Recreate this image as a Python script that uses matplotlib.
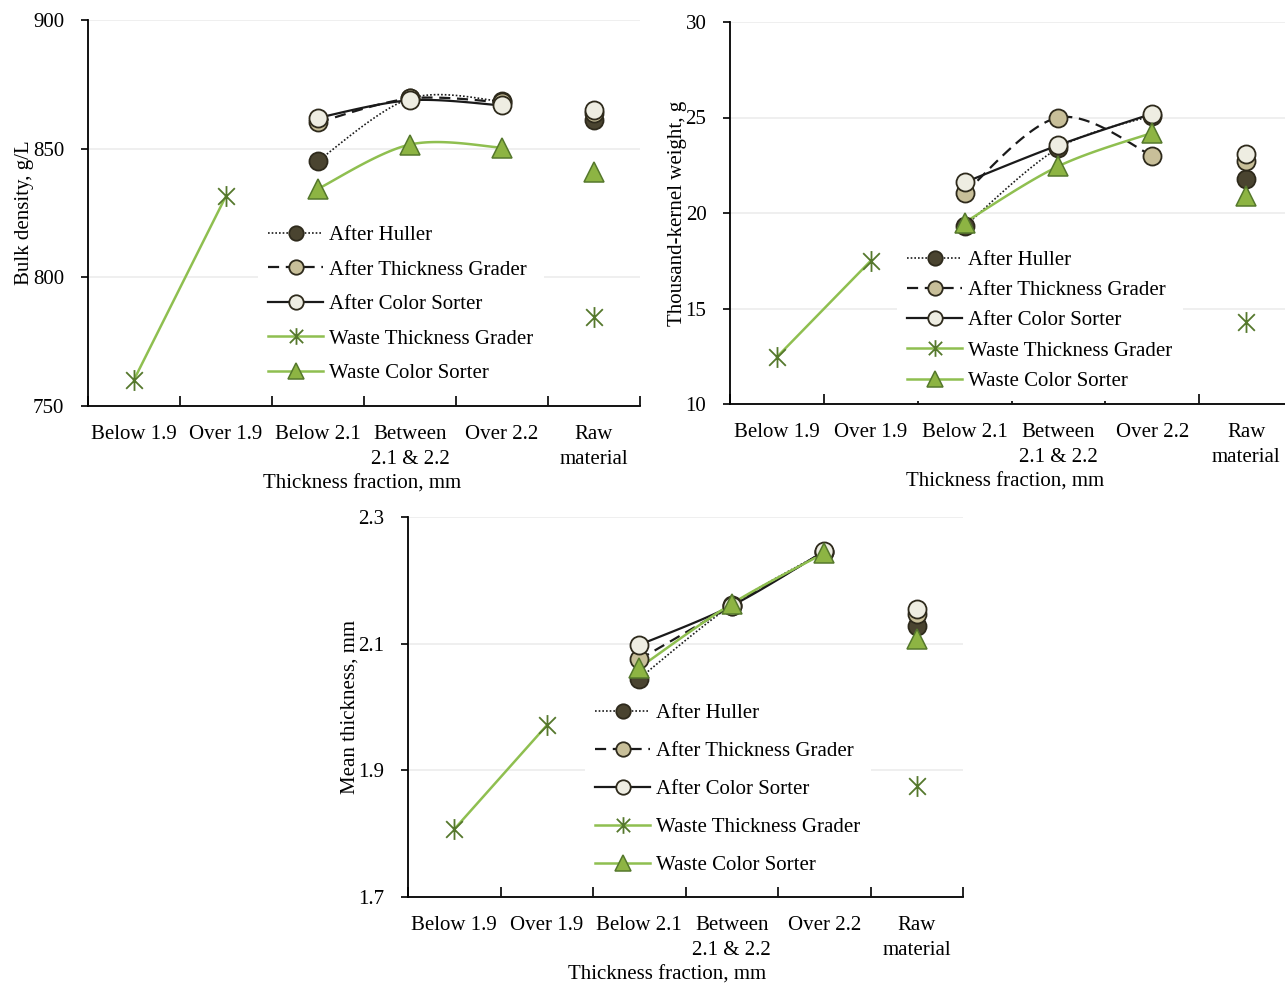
import numpy as np
import matplotlib
matplotlib.use("Agg")
import matplotlib.pyplot as plt
from matplotlib.path import Path

plt.rcParams['font.family'] = ['Liberation Serif', 'DejaVu Serif']
plt.rcParams['font.size'] = 15

categories = ["Below 1.9", "Over 1.9", "Below 2.1", "Between\n2.1 & 2.2", "Over 2.2", "Raw\nmaterial"]
series_names = ["After Huller", "After Thickness Grader", "After Color Sorter",
                "Waste Thickness Grader", "Waste Color Sorter"]
nan = np.nan

# bulk density, g/L
bulk_huller = [nan, nan, 845.3, 869.5, 868.4, 861.0]
bulk_grader = [nan, nan, 860.2, 869.5, 868.0, 863.7]
bulk_sorter = [nan, nan, 862.0, 868.8, 866.8, 865.2]
bulk_waste_grader = [760.2, 831.6, nan, nan, nan, 784.4]
bulk_waste_sorter = [nan, nan, 834.4, 851.6, 850.4, 841.0]

# thousand-kernel weight, g
tkw_huller = [nan, nan, 19.3, 23.4, 25.1, 21.8]
tkw_grader = [nan, nan, 21.05, 25.0, 23.0, 22.7]
tkw_sorter = [nan, nan, 21.6, 23.55, 25.2, 23.1]
tkw_waste_grader = [12.46, 17.5, nan, nan, nan, 14.3]
tkw_waste_sorter = [nan, nan, 19.5, 22.45, 24.2, 20.9]

# mean thickness, mm
thick_huller = [nan, nan, 2.045, 2.161, 2.245, 2.128]
thick_grader = [nan, nan, 2.075, 2.160, 2.245, 2.147]
thick_sorter = [nan, nan, 2.098, 2.160, 2.246, 2.155]
thick_waste_grader = [1.807, 1.971, nan, nan, nan, 1.876]
thick_waste_sorter = [nan, nan, 2.062, 2.163, 2.243, 2.108]

# asterisk marker like the spreadsheet one
star_path = Path([(-1, -1), (1, 1), (-1, 1), (1, -1), (0, -1.25), (0, 1.25)],
                 [Path.MOVETO, Path.LINETO, Path.MOVETO, Path.LINETO, Path.MOVETO, Path.LINETO])

edge_dark = "#2e2a1c"
green_line = "#8fbf50"
green_dark = "#55782c"
styles = [
    dict(color="#1a1a1a", ls=(0, (1, 1.2)), lw=1.2, marker="o", ms=13, mfc="#4a4430", mec=edge_dark, mew=1.3),
    dict(color="#1a1a1a", ls=(0, (5, 3)), lw=1.6, marker="o", ms=13, mfc="#c8bf99", mec=edge_dark, mew=1.3),
    dict(color="#1a1a1a", ls="-", lw=1.6, marker="o", ms=13, mfc="#eeede2", mec=edge_dark, mew=1.3),
    dict(color=green_line, ls="-", lw=1.8, marker=star_path, ms=15, mfc="none", mec=green_dark, mew=1.3),
    dict(color=green_line, ls="-", lw=1.8, marker="^", ms=14, mfc="#8db443", mec=green_dark, mew=1.1),
]


def smooth(xs, ys, n=40):
    # Catmull-Rom curve through the points, like the spreadsheet's smoothed line
    pts = np.column_stack([xs, ys])
    if len(pts) < 3:
        return pts[:, 0], pts[:, 1]
    p = np.vstack([pts[0], pts, pts[-1]])
    t = np.linspace(0, 1, n)[:, None]
    out = []
    for i in range(1, len(p) - 2):
        p0, p1, p2, p3 = p[i - 1], p[i], p[i + 1], p[i + 2]
        seg = 0.5 * (2 * p1 + (-p0 + p2) * t + (2 * p0 - 5 * p1 + 4 * p2 - p3) * t ** 2
                     + (-p0 + 3 * p1 - 3 * p2 + p3) * t ** 3)
        out.append(seg)
    out = np.vstack(out)
    return out[:, 0], out[:, 1]


def draw_panel(ax, data, ylim, yticks, yfmt, ylabel, legend_xy, spacing, xlabel_x):
    x = np.arange(len(categories))
    for vals, st in zip(data, styles):
        vals = np.array(vals, dtype=float)
        # connected part over the first five fractions, raw material stays alone
        main = vals[:5]
        idx = np.where(~np.isnan(main))[0]
        sx, sy = smooth(x[idx], main[idx])
        ax.plot(sx, sy, color=st["color"], ls=st["ls"], lw=st["lw"], zorder=2)
        ax.plot(x, vals, ls="none", marker=st["marker"], ms=st["ms"], mfc=st["mfc"],
                mec=st["mec"], mew=st["mew"], zorder=3)
    ax.set_xlim(-0.5, len(categories) - 0.5)
    ax.set_ylim(*ylim)
    ax.set_yticks(yticks)
    ax.set_yticklabels([yfmt.format(v) for v in yticks])
    ax.set_xticks(np.arange(len(categories) + 1) - 0.5)
    ax.set_xticklabels([])
    ax.set_xticks(x, minor=True)
    ax.set_xticklabels(categories, minor=True, linespacing=1.42)
    ax.tick_params(axis="x", which="major", direction="in", length=7, width=1.2)
    ax.tick_params(axis="x", which="minor", length=0, pad=14)
    ax.tick_params(axis="y", direction="out", length=5, width=1.2, pad=12)
    for s in ("top", "right"):
        ax.spines[s].set_visible(False)
    for s in ("left", "bottom"):
        ax.spines[s].set_linewidth(1.3)
    ax.grid(axis="y", color="#ececec", lw=1.2)
    ax.set_axisbelow(True)
    ax.set_xlabel("Thickness fraction, mm", labelpad=4)
    ax.xaxis.label.set_x(xlabel_x)
    ax.set_ylabel(ylabel, labelpad=-1)

    handles = []
    for st in styles:
        h, = ax.plot([], [], color=st["color"], ls=st["ls"], lw=st["lw"], marker=st["marker"],
                     ms=st["ms"], mfc=st["mfc"], mec=st["mec"], mew=st["mew"])
        handles.append(h)
    leg = ax.legend(handles, series_names, loc="upper left",
                    bbox_to_anchor=(legend_xy[0] / 1285, 1 - legend_xy[1] / 986),
                    bbox_transform=ax.figure.transFigure, frameon=True, facecolor="white",
                    edgecolor="none", framealpha=1, fancybox=False, handlelength=2.6,
                    handletextpad=0.32, labelspacing=spacing, borderpad=0.5, borderaxespad=0,
                    markerscale=0.8)
    leg.set_zorder(5)


fig = plt.figure(figsize=(12.85, 9.86), dpi=100)
ax1 = fig.add_axes([88 / 1285, 1 - 406 / 986, 552 / 1285, 386 / 986])
ax2 = fig.add_axes([730 / 1285, 1 - 404 / 986, 563 / 1285, 382 / 986])
ax3 = fig.add_axes([408 / 1285, 1 - 897 / 986, 555 / 1285, 380 / 986])

draw_panel(ax1, [bulk_huller, bulk_grader, bulk_sorter, bulk_waste_grader, bulk_waste_sorter],
           (750, 900), [750, 800, 850, 900], "{:.0f}", "Bulk density, g/L", (258, 215), 0.72, 0.496)
draw_panel(ax2, [tkw_huller, tkw_grader, tkw_sorter, tkw_waste_grader, tkw_waste_sorter],
           (10, 30), [10, 15, 20, 25, 30], "{:.0f}", "Thousand-kernel weight, g", (897, 240), 0.51, 0.488)
draw_panel(ax3, [thick_huller, thick_grader, thick_sorter, thick_waste_grader, thick_waste_sorter],
           (1.7, 2.3), [1.7, 1.9, 2.1, 2.3], "{:.1f}", "Mean thickness, mm", (585, 693), 0.89, 0.467)

fig.savefig("out.png", dpi=100)
